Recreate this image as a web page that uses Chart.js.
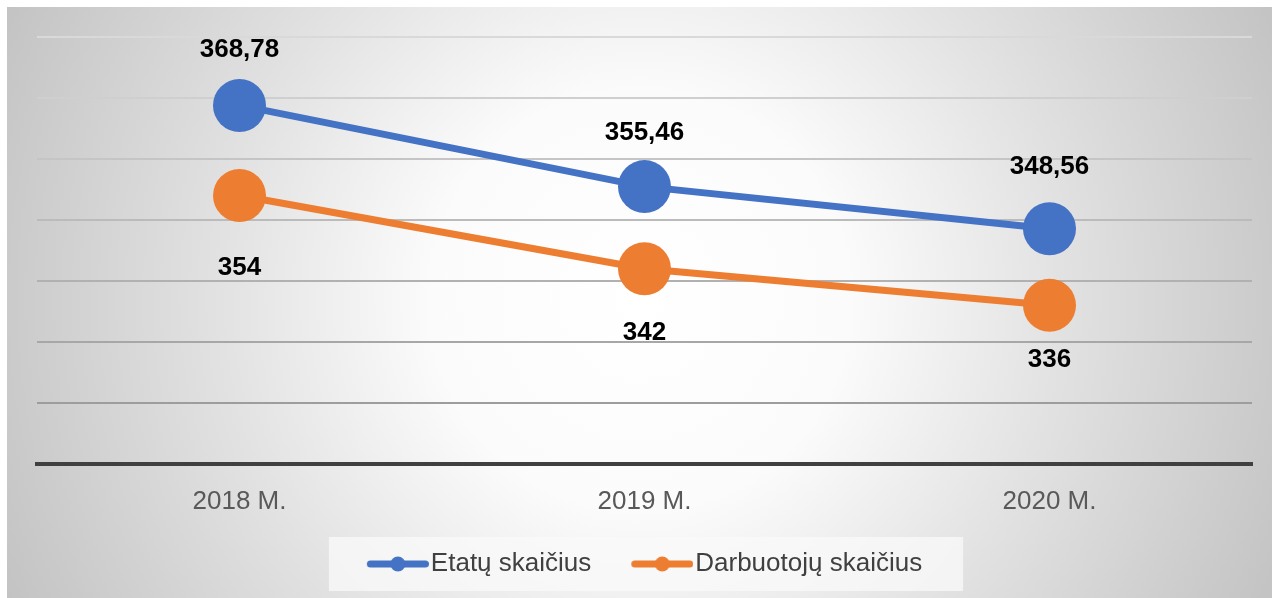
<!DOCTYPE html>
<html>
<head>
<meta charset="utf-8">
<script src="https://cdn.jsdelivr.net/npm/chart.js@4.4.1/dist/chart.umd.min.js"></script>
<style>
  html, body { margin: 0; padding: 0; background: #ffffff; }
  canvas { display: block; }
</style>
</head>
<body>
<canvas id="chart" width="1272" height="598"></canvas>
<script>
const years = ["2018 M.", "2019 M.", "2020 M."];
const etatai = [368.78, 355.46, 348.56];
const darbuotojai = [354, 342, 336];
const seriesNames = ["Etatų skaičius", "Darbuotojų skaičius"];
const yMin = 310;
const yMax = 380;
const yStep = 10;

const BLUE = "#4472c4";
const ORANGE = "#ed7d31";
const FONT = "'Liberation Sans', Arial, sans-serif";

// line + dot sample used in the legend (drawn in the right part of the image)
function legendMarker(color) {
  const c = document.createElement("canvas");
  c.width = 101;
  c.height = 18;
  const g = c.getContext("2d");
  g.strokeStyle = color;
  g.lineWidth = 7;
  g.lineCap = "round";
  g.beginPath();
  g.moveTo(42.5, 9);
  g.lineTo(97.5, 9);
  g.stroke();
  g.fillStyle = color;
  g.beginPath();
  g.arc(70, 9, 7.5, 0, Math.PI * 2);
  g.fill();
  return c;
}

function gridShade(value) {
  const t = (yMax - value) / (yMax - yMin - yStep);
  const v = Math.round(217 - t * 60);
  return "rgb(" + v + "," + v + "," + v + ")";
}

const backgroundPlugin = {
  id: "background",
  beforeDraw(chart) {
    const { ctx, width, height } = chart;
    ctx.save();
    ctx.fillStyle = "#ffffff";
    ctx.fillRect(0, 0, width, height);
    const grad = ctx.createRadialGradient(640, 300, 0, 640, 300, 700);
    grad.addColorStop(0, "#ffffff");
    grad.addColorStop(0.3, "#fbfbfb");
    grad.addColorStop(0.6, "#e2e2e2");
    grad.addColorStop(1, "#c3c3c3");
    ctx.fillStyle = grad;
    ctx.fillRect(7, 7, width - 7, height - 7);

    const boxes = chart.legend && chart.legend.legendHitBoxes;
    if (boxes && boxes.length) {
      const first = boxes[0];
      const last = boxes[boxes.length - 1];
      const cy = first.top + first.height / 2;
      ctx.fillStyle = "rgba(250,250,250,0.75)";
      ctx.fillRect(first.left - 10, cy - 27, last.left + last.width - first.left + 51, 54);
    }
    ctx.restore();
  },
};

const valueLabels = {
  id: "valueLabels",
  afterDatasetsDraw(chart, args, opts) {
    const { ctx } = chart;
    ctx.save();
    ctx.font = "bold 26px " + FONT;
    ctx.fillStyle = "#000000";
    ctx.textAlign = "center";
    ctx.textBaseline = "middle";
    chart.data.datasets.forEach((ds, i) => {
      const meta = chart.getDatasetMeta(i);
      meta.data.forEach((pt, j) => {
        const text = String(ds.data[j]).replace(".", ",");
        ctx.fillText(text, pt.x, pt.y + opts.offsets[i][j]);
      });
    });
    ctx.restore();
  },
};

function makeDataset(label, data, color) {
  return {
    label: label,
    data: data,
    borderColor: color,
    backgroundColor: color,
    borderWidth: 7,
    pointRadius: 26.5,
    pointHoverRadius: 26.5,
    pointBorderWidth: 0,
    pointBackgroundColor: color,
    tension: 0,
  };
}

new Chart(document.getElementById("chart"), {
  type: "line",
  data: {
    labels: years,
    datasets: [
      makeDataset(seriesNames[0], etatai, BLUE),
      makeDataset(seriesNames[1], darbuotojai, ORANGE),
    ],
  },
  options: {
    responsive: false,
    animation: false,
    layout: {
      autoPadding: false,
      padding: { left: 9, right: 20, top: 37, bottom: 11 },
    },
    scales: {
      x: {
        offset: true,
        grid: { display: false, drawTicks: false },
        border: { display: true, color: "#404040", width: 4 },
        ticks: {
          color: "#595959",
          font: { family: FONT, size: 26 },
          padding: 22,
        },
      },
      y: {
        min: yMin,
        max: yMax,
        ticks: { stepSize: yStep, display: false },
        border: { display: false },
        grid: {
          drawTicks: false,
          lineWidth: 2,
          color: (c) => (c.tick && c.tick.value === yMin ? "rgba(0,0,0,0)" : gridShade(c.tick ? c.tick.value : yMax)),
        },
        afterFit(scale) {
          scale.width = 28;
        },
      },
    },
    plugins: {
      legend: {
        position: "bottom",
        labels: {
          usePointStyle: true,
          pointStyleWidth: 79,
          padding: 12,
          color: "#404040",
          font: { family: FONT, size: 26 },
          generateLabels(chart) {
            const items = Chart.defaults.plugins.legend.labels.generateLabels(chart);
            return items.map((item) => ({
              ...item,
              pointStyle: legendMarker(chart.data.datasets[item.datasetIndex].borderColor),
            }));
          },
        },
      },
      tooltip: { enabled: false },
      valueLabels: { offsets: [[-56, -54, -62], [72, 64, 55]] },
    },
  },
  plugins: [backgroundPlugin, valueLabels],
});
</script>
</body>
</html>
